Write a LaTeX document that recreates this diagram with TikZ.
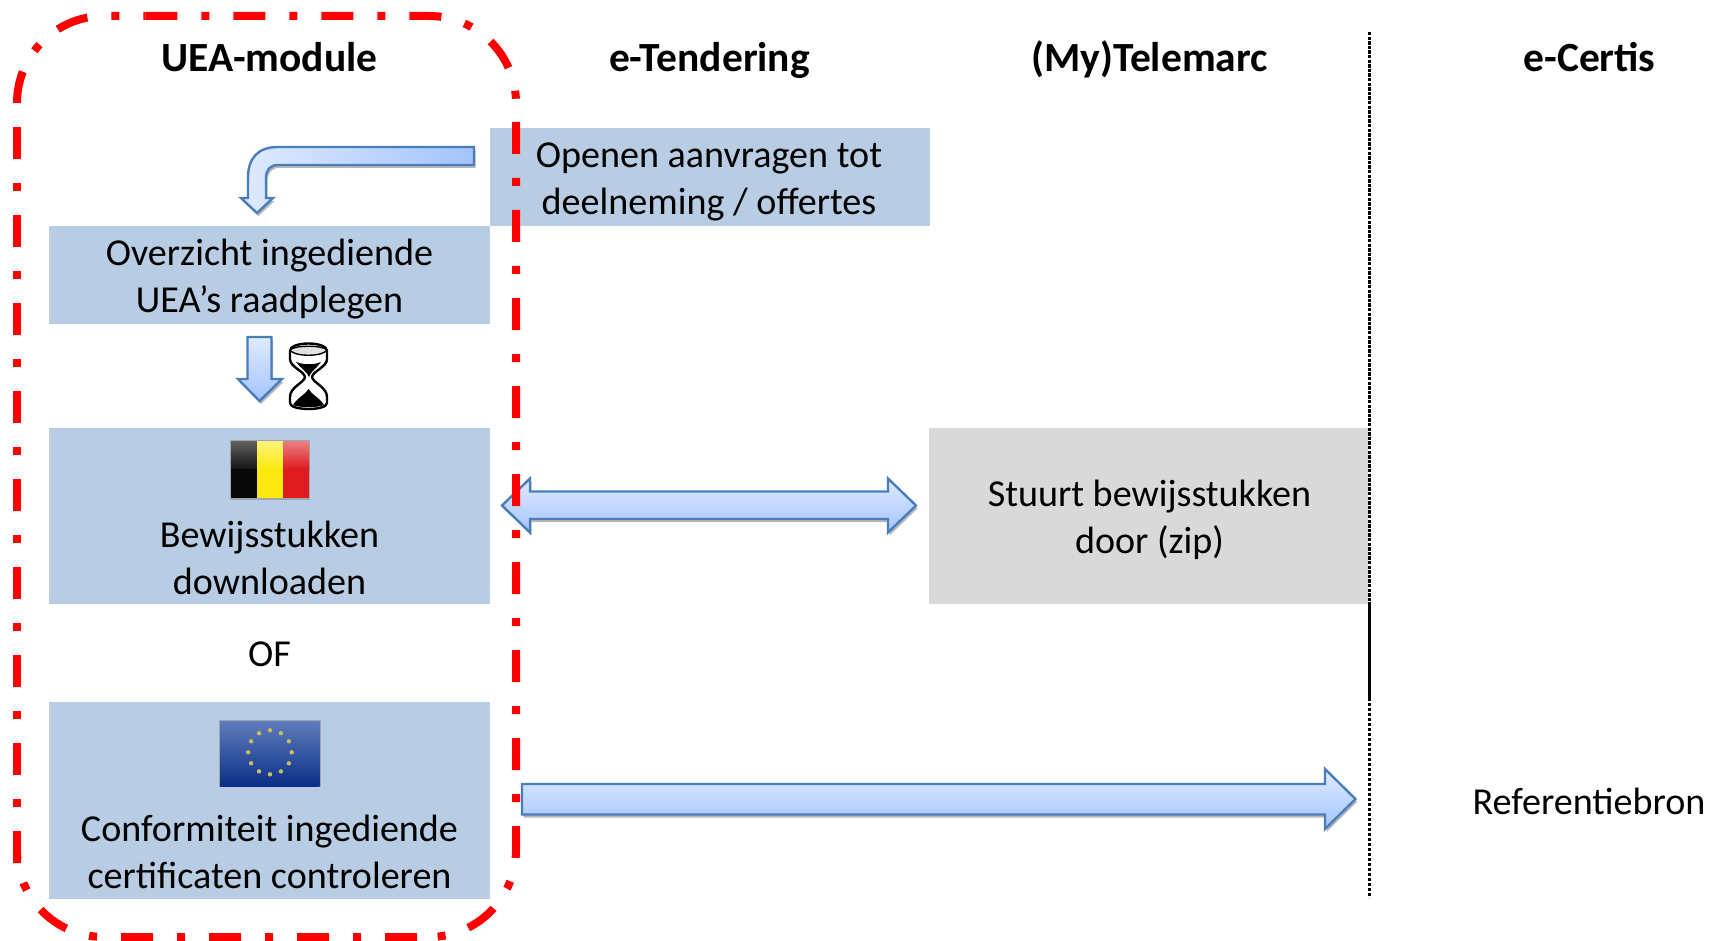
\documentclass[tikz,border=0pt]{standalone}
\usepackage{fontspec}
\setmainfont{Carlito}
\usetikzlibrary{shadows}
\definecolor{boxblue}{HTML}{B8CCE4}
\definecolor{boxgrey}{HTML}{D9D9D9}
\definecolor{arrowline}{HTML}{4A7EBB}
\definecolor{arrowlight}{HTML}{E0EAFF}
\definecolor{arrowdark}{HTML}{A3C4FF}
\definecolor{redline}{HTML}{FF0000}
\definecolor{starcol}{HTML}{CDBB62}
\definecolor{eutop}{HTML}{5F7DBC}
\definecolor{eumid}{HTML}{1E4699}
\definecolor{eubot}{HTML}{0B2F86}
\definecolor{beyellowtop}{HTML}{FFF27A}
\definecolor{beyellow}{HTML}{FBE90F}
\definecolor{beredtop}{HTML}{EC8080}
\definecolor{bered}{HTML}{DE1C20}
\tikzset{
  panel/.style={draw=none,inner sep=0pt,outer sep=0pt,anchor=north west,align=center},
  body/.style={inner sep=0pt,align=center,font=\fontsize{38.1}{47}\selectfont},
  head/.style={inner sep=0pt,anchor=base,font=\fontsize{41.5}{47}\selectfont\bfseries},
  blockarrow/.style={draw=arrowline,line width=2.4pt,line join=miter,
    drop shadow={shadow xshift=1.5pt,shadow yshift=-3pt,opacity=.28,fill=black}},
  redseg/.style={draw=redline,line width=8pt,rounded corners=87pt,
    dash pattern=on 32pt off 24pt on 8pt off 24pt},
  star dot/.style={fill=starcol,draw=none},
}
\begin{document}
\begin{tikzpicture}[x=1pt,y=-1pt]
\useasboundingbox (0,0) rectangle (1710,941);
\clip (0,0) rectangle (1710,941);
% panels
\node[panel,fill=boxblue,minimum width=440pt,minimum height=98pt] (open) at (490,128) {};
\node[panel,fill=boxblue,minimum width=441pt,minimum height=98pt] (over) at (49,226) {};
\node[panel,fill=boxblue,minimum width=441pt,minimum height=176pt] (bew) at (49,427.5) {};
\node[panel,fill=boxblue,minimum width=441pt,minimum height=197pt] (conf) at (49,701.5) {};
\node[panel,fill=boxgrey,minimum width=439pt,minimum height=176pt] (stuurt) at (929,427.5) {};
% divider
\coordinate (divtop) at (1369.5,32);
\coordinate (divmidA) at (1369.5,603);
\coordinate (divmidB) at (1369.5,698);
\coordinate (divbot) at (1369.5,898);
\draw[line width=2.6pt,dash pattern=on 3.4pt off 1.2pt] (divtop) -- (divmidA);
\draw[line width=2.8pt] (divmidA) -- (divmidB);
\draw[line width=2.6pt,dash pattern=on 3.4pt off 1.6pt] (divmidB) -- (divbot);
% texts
\node[head] (h1) at (269.5,71.5) {UEA-module};
\node[head] (h2) at (709.5,71.5) {e-Tendering};
\node[head] (h3) at (1149.5,71.5) {(My)Telemarc};
\node[head] (h4) at (1589.5,71.5) {e-Certis};
\node[body] (t1) at (709,182) {Openen aanvragen tot\\deelneming / offertes};
\node[body] (t2) at (269.5,279) {Overzicht ingediende\\UEA’s raadplegen};
\node[body] (t3) at (269.5,558) {Bewijsstukken\\downloaden};
\node[body] (t4) at (269.5,654) {OF};
\node[body] (t5) at (269.5,852) {Conformiteit ingediende\\certificaten controleren};
\node[body] (t6) at (1149.5,520) {Stuurt bewijsstukken\\door (zip)};
\node[body] (t7) at (1589,801) {Referentiebron};
% bent arrow
\draw[blockarrow,left color=arrowlight,right color=arrowdark]
  (474,147) -- (278,147) .. controls (258,147) and (248,158) .. (248,178)
  -- (248,198) -- (241,198) -- (257,213) -- (273,198) -- (266,198) -- (266,178)
  .. controls (266,170) and (270,165) .. (278,165) -- (474,165) -- cycle;
% wait arrow
\draw[blockarrow,top color=arrowlight,bottom color=arrowdark]
  (247.5,337) -- (271.5,337) -- (271.5,379) -- (282,379) -- (259.5,401) -- (238,379) -- (247.5,379) -- cycle;
% hourglass
\draw[fill=white,line width=2.4pt,line join=round]
  (290,351) .. controls (290,341) and (327,341) .. (327,351) -- (327,359)
  .. controls (327,367) and (313,371) .. (312,377) .. controls (313,383) and (327,387) .. (327,397)
  -- (327,403) .. controls (327,411) and (290,411) .. (290,403) -- (290,397)
  .. controls (290,387) and (304,383) .. (305,377) .. controls (304,371) and (290,367) .. (290,359) -- cycle;
\draw[line width=1.4pt,fill=white!88!black] (290,350) .. controls (294,357) and (323,357) .. (327,350) .. controls (323,345) and (294,345) .. (290,350) -- cycle;
\fill[black] (296,362) .. controls (304,365) and (314,365) .. (321,362) .. controls (317,368) and (311,371) .. (309,377) .. controls (307,371) and (300,368) .. (296,362) -- cycle;
\fill[black] (293,405) .. controls (298,397) and (305,395) .. (308.5,389) .. controls (312,395) and (319,397) .. (324,405) .. controls (316,408) and (301,408) .. (293,405) -- cycle;
% double arrow
\draw[blockarrow,top color=arrowlight,bottom color=arrowdark]
  (502,505.5) -- (530,478.5) -- (530,491.5) -- (888,491.5) -- (888,478.5) -- (916,505.5) -- (888,532.5) -- (888,519) -- (530,519) -- (530,532.5) -- cycle;
% long arrow
\draw[blockarrow,top color=arrowlight,bottom color=arrowdark]
  (522,784) -- (1325,784) -- (1325,769) -- (1355.5,799) -- (1325,829) -- (1325,814.5) -- (522,814.5) -- cycle;
% Belgian flag
\fill[black!45,opacity=.6] (230,440) rectangle (310,500);
\shade[top color=black!62,bottom color=black!92] (231,441) rectangle (257,469);
\fill[black!97] (231,469) rectangle (257,498);
\shade[top color=beyellowtop,bottom color=beyellow] (257,441) rectangle (283,469);
\fill[beyellow] (257,469) rectangle (283,498);
\shade[top color=beredtop,bottom color=bered] (283,441) rectangle (309,469);
\fill[bered] (283,469) rectangle (309,498);
% EU flag
\fill[black!45,opacity=.6] (219,720) rectangle (320.5,787);
\shade[top color=eutop,middle color=eumid,bottom color=eubot] (220,721) rectangle (319.5,786);
\foreach \a in {0,30,...,330}
  \fill[star dot] ({270+21.8*cos(\a)},{752.3+22*sin(\a)}) circle (2.2pt);
% red outline
\coordinate (rS) at (17,103);
\coordinate (rTL) at (17,16);
\coordinate (rB) at (145.4,16);
\coordinate (rTR) at (516,16);
\coordinate (rC) at (516,122);
\coordinate (rBR) at (516,937);
\coordinate (rD) at (417,937);
\coordinate (rBL) at (17,937);
\coordinate (rA) at (17,863);
\coordinate (rE) at (17,127);
\draw[redseg] (rS) -- (rTL) -- (rB);
\draw[redseg] (rB) -- (rTR) -- (rC);
\draw[redseg] (rC) -- (rBR) -- (rD);
\draw[redseg] (rD) -- (rBL) -- (rA);
\draw[redseg] (rA) -- (rE);
\end{tikzpicture}
\end{document}
